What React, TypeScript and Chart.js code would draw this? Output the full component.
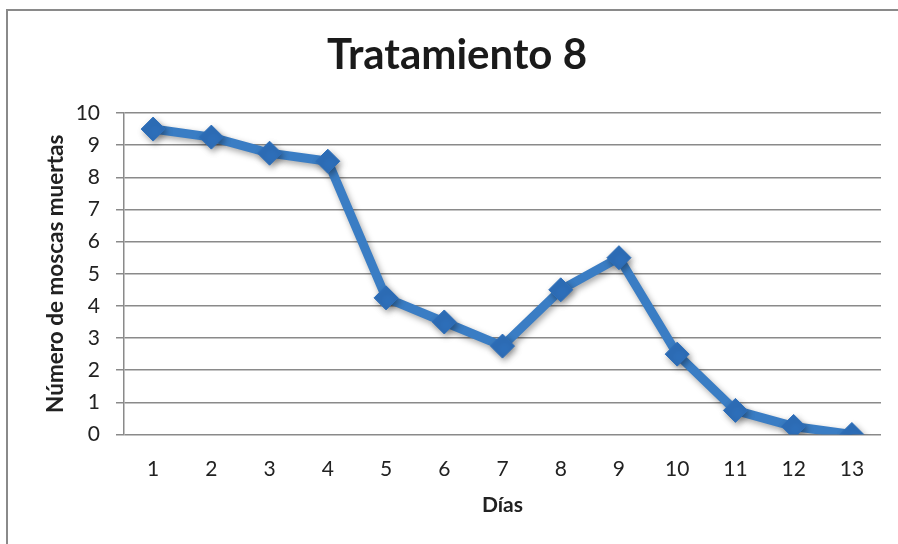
import React, { useEffect, useRef } from "react";
import { Chart, registerables } from "chart.js";

Chart.register(...registerables);

const days = ["1", "2", "3", "4", "5", "6", "7", "8", "9", "10", "11", "12", "13"];
const deadFlies = [9.5, 9.25, 8.75, 8.5, 4.25, 3.5, 2.75, 4.5, 5.5, 2.5, 0.75, 0.25, 0];
const chartTitle = "Tratamiento 8";
const xTitle = "Días";
const yTitle = "Número de moscas muertas";

const FONT = "Lato, 'Open Sans', sans-serif";

const frame = {
  id: "frame",
  beforeDraw(chart: any) {
    const ctx = chart.ctx;
    ctx.save();
    ctx.fillStyle = "#ffffff";
    ctx.fillRect(0, 0, chart.width, chart.height);
    ctx.strokeStyle = "#8a8a8a";
    ctx.lineWidth = 2;
    ctx.strokeRect(7, 10, chart.width + 20, chart.height + 20);
    ctx.restore();
  },
};

const shadow = {
  id: "shadow",
  beforeDatasetsDraw(chart: any) {
    const ctx = chart.ctx;
    ctx.save();
    ctx.shadowColor = "rgba(0,0,0,0.35)";
    ctx.shadowBlur = 6;
    ctx.shadowOffsetX = 2;
    ctx.shadowOffsetY = 3;
  },
  afterDatasetsDraw(chart: any) {
    chart.ctx.restore();
  },
};

export default function App() {
  const ref = useRef<HTMLCanvasElement | null>(null);
  useEffect(() => {
    if (!ref.current) return;
    const chart = new Chart(ref.current, {
      type: "line",
      data: {
        labels: days,
        datasets: [
          {
            data: deadFlies,
            borderColor: "#3a7dc4",
            borderWidth: 9,
            pointStyle: "rectRot",
            pointRadius: 12,
            pointBackgroundColor: "#2e6fba",
            pointBorderColor: "#2e6fba",
            pointBorderWidth: 1,
            tension: 0,
          },
        ],
      },
      plugins: [frame, shadow],
      options: {
        responsive: false,
        animation: false,
        layout: { padding: { left: 33, right: 17, top: 0, bottom: 0 } },
        plugins: {
          legend: { display: false },
          tooltip: { enabled: false },
          title: {
            display: true,
            text: chartTitle,
            color: "#1a1a1a",
            font: { family: FONT, size: 42, weight: "bold" },
            padding: { top: 30, bottom: 32.6 },
          },
        },
        scales: {
          x: {
            offset: true,
            grid: { display: false },
            border: { display: false },
            ticks: {
              color: "#222",
              font: { family: FONT, size: 21 },
              padding: 14,
              maxRotation: 0,
            },
            title: {
              display: true,
              text: xTitle,
              color: "#222",
              font: { family: FONT, size: 21, weight: "bold" },
              padding: { top: 0, bottom: 26 },
            },
            afterFit(scale: any) {
              scale.height = 109.5;
            },
          },
          y: {
            min: 0,
            max: 10,
            ticks: {
              stepSize: 1,
              color: "#222",
              font: { family: FONT, size: 21 },
              padding: 16,
            },
            grid: {
              color: "#8a8a8a",
              lineWidth: 1.5,
              tickLength: 8,
              drawTicks: true,
            },
            border: { display: true, color: "#8a8a8a", width: 1.5 },
            title: {
              display: true,
              text: yTitle,
              color: "#222",
              font: { family: FONT, size: 22.5, weight: "bold" },
              padding: { top: 9, bottom: 0 },
            },
            afterFit(scale: any) {
              scale.width = 91;
            },
          },
        },
      },
    });
    return () => chart.destroy();
  }, []);
  return (
    <div style={{ position: "fixed", left: 0, top: 0, width: 898, height: 544, background: "#fff" }}>
      <canvas ref={ref} width={898} height={544} style={{ display: "block" }} />
    </div>
  );
}
